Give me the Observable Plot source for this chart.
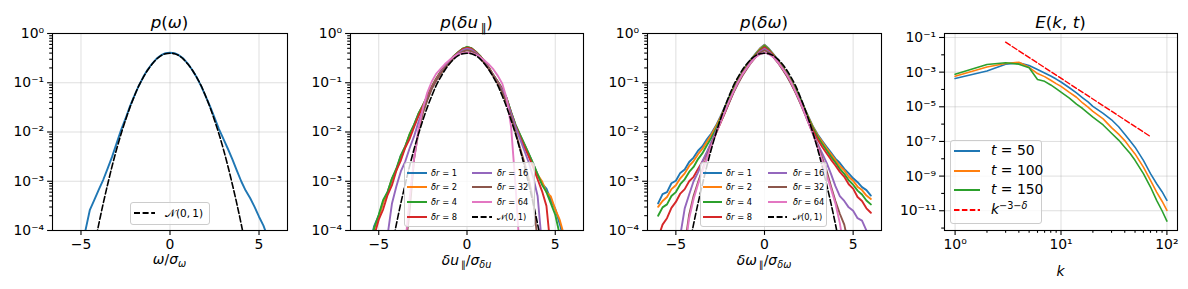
<!DOCTYPE html>
<html><head><meta charset="utf-8">
<script src="https://cdn.jsdelivr.net/npm/d3@7"></script>
<script src="https://cdn.jsdelivr.net/npm/@observablehq/plot@0.6"></script>
<style>
html,body{margin:0;padding:0;background:#fff;}
#wrap{position:relative;width:1188px;height:289px;overflow:hidden;font-family:"DejaVu Sans",sans-serif;color:#000;}
#wrap svg{position:absolute;top:0;overflow:visible;}
.lbl{position:absolute;white-space:nowrap;line-height:1;transform:translateX(-50%);}
.title{font-size:16.7px;}
.xlab{font-size:13.9px;}
i{font-style:italic;}
.sb{font-size:70%;position:relative;top:0.3em;line-height:0;}
.sp{font-size:70%;position:relative;top:-0.5em;line-height:0;}
.lgbox{position:absolute;border:1px solid #cccccc;border-radius:3px;background:rgba(255,255,255,0.8);box-sizing:border-box;}
.lgtxt{position:absolute;white-space:nowrap;line-height:1;transform:translateY(-50%);}
.lgline{position:absolute;overflow:visible;}
</style>
</head><body><div id="wrap"></div>
<script>
const _ = null;
// shared x grid for the PDF panels (normalised variable)
const xGrid = [-6,-5.75,-5.5,-5.25,-5,-4.75,-4.5,-4.25,-4,-3.75,-3.5,-3.25,-3,-2.75,-2.5,-2.25,-2,-1.75,-1.5,-1.25,-1,-0.75,-0.5,-0.25,0,0.25,0.5,0.75,1,1.25,1.5,1.75,2,2.25,2.5,2.75,3,3.25,3.5,3.75,4,4.25,4.5,4.75,5,5.25,5.5,5.75,6];

// log10 of the PDFs
const omegaPdf = [_,_,_,_,-4.6,-4.0,-3.58,-3.38,-3.17,-2.97,-2.74,-2.5,-2.23,-1.96,-1.73,-1.48,-1.26,-1.06,-0.88,-0.73,-0.61,-0.51,-0.44,-0.4,-0.39,-0.4,-0.44,-0.51,-0.61,-0.74,-0.89,-1.07,-1.27,-1.48,-1.71,-1.94,-2.14,-2.34,-2.55,-2.78,-3.0,-3.19,-3.34,-3.52,-3.72,-3.9,-4.15,_,_];
const gaussPdf = [_,_,_,_,_,_,-4.8,-4.32,-3.87,-3.45,-3.06,-2.69,-2.35,-2.04,-1.76,-1.5,-1.27,-1.06,-0.89,-0.74,-0.62,-0.52,-0.45,-0.41,-0.4,-0.41,-0.45,-0.52,-0.62,-0.74,-0.89,-1.06,-1.27,-1.5,-1.76,-2.04,-2.35,-2.69,-3.06,-3.45,-3.87,-4.32,-4.8,_,_,_,_,_,_];

const seriesLabels = ["1","2","4","8","16","32","64"];
const seriesColors = ["#1f77b4","#ff7f0e","#2ca02c","#d62728","#9467bd","#8c564b","#e377c2"];

const du1 = [_,_,-4.25,-3.9,-3.7,-3.42,-3.22,-2.96,-2.76,-2.48,-2.3,-2.06,-1.86,-1.63,-1.46,-1.28,-1.08,-0.92,-0.78,-0.66,-0.56,-0.46,-0.38,-0.31,-0.28,-0.3,-0.37,-0.46,-0.57,-0.7,-0.85,-0.98,-1.12,-1.32,-1.6,-1.86,-2.06,-2.25,-2.45,-2.65,-2.86,-3.05,-3.15,-3.38,-3.56,-3.86,-4.2,_,_];
const du2 = [_,_,-4.35,-3.96,-3.72,-3.43,-3.24,-2.95,-2.78,-2.5,-2.31,-2.05,-1.87,-1.64,-1.46,-1.28,-1.09,-0.92,-0.78,-0.66,-0.56,-0.46,-0.38,-0.31,-0.28,-0.3,-0.37,-0.46,-0.57,-0.7,-0.85,-0.98,-1.13,-1.33,-1.61,-1.87,-2.07,-2.26,-2.46,-2.66,-2.87,-3.0,-3.22,-3.31,-3.57,-3.78,-4.1,_,_];
const du4 = [_,_,-4.3,-3.94,-3.68,-3.38,-3.22,-2.94,-2.74,-2.48,-2.29,-2.04,-1.85,-1.63,-1.46,-1.28,-1.09,-0.93,-0.78,-0.66,-0.56,-0.46,-0.38,-0.31,-0.27,-0.3,-0.37,-0.46,-0.57,-0.7,-0.85,-0.98,-1.13,-1.32,-1.6,-1.85,-2.05,-2.24,-2.44,-2.64,-2.86,-3.07,-3.22,-3.45,-3.68,-4.08,-4.5,_,_];
const du8 = [_,_,-4.5,-4.1,-3.78,-3.57,-3.28,-3.08,-2.78,-2.58,-2.32,-2.14,-1.9,-1.68,-1.48,-1.29,-1.1,-0.94,-0.79,-0.67,-0.57,-0.47,-0.39,-0.32,-0.29,-0.31,-0.38,-0.47,-0.58,-0.71,-0.86,-0.99,-1.14,-1.34,-1.62,-1.88,-2.1,-2.3,-2.5,-2.72,-2.96,-3.2,-3.5,-4.4,_,_,_,_,_];
const du16 = [_,_,_,_,_,_,-4.1,-3.45,-3.1,-2.8,-2.6,-2.33,-2.09,-1.8,-1.55,-1.33,-1.12,-0.95,-0.8,-0.68,-0.58,-0.48,-0.4,-0.34,-0.31,-0.33,-0.39,-0.48,-0.59,-0.72,-0.86,-1.0,-1.15,-1.36,-1.63,-1.9,-2.14,-2.38,-2.62,-2.92,-3.3,-4.3,_,_,_,_,_,_,_];
const du32 = [_,_,_,_,_,_,_,_,_,_,-4.4,-3.6,-2.55,-2.0,-1.62,-1.36,-1.13,-0.96,-0.82,-0.7,-0.6,-0.5,-0.42,-0.37,-0.34,-0.36,-0.41,-0.5,-0.61,-0.73,-0.87,-1.02,-1.2,-1.42,-1.7,-2.0,-2.32,-2.62,-2.95,-3.4,-4.2,_,_,_,_,_,_,_,_];
const du64 = [_,_,_,_,_,_,_,_,_,_,-4.3,-3.35,-2.55,-1.95,-1.52,-1.2,-0.98,-0.82,-0.72,-0.62,-0.54,-0.47,-0.42,-0.4,-0.39,-0.4,-0.43,-0.48,-0.55,-0.63,-0.73,-0.86,-1.02,-1.32,-1.9,-3.1,-4.5,_,_,_,_,_,_,_,_,_,_,_,_];

const dw1 = [-3.45,-3.26,-3.22,-3.04,-2.99,-2.83,-2.76,-2.61,-2.52,-2.38,-2.29,-2.15,-2.03,-1.88,-1.7,-1.5,-1.3,-1.11,-0.94,-0.79,-0.65,-0.52,-0.41,-0.3,-0.23,-0.31,-0.42,-0.53,-0.66,-0.8,-0.95,-1.12,-1.31,-1.51,-1.71,-1.9,-2.05,-2.18,-2.3,-2.42,-2.54,-2.63,-2.75,-2.84,-2.94,-3.02,-3.12,-3.18,-3.29];
const dw2 = [-3.52,-3.4,-3.32,-3.16,-3.08,-2.94,-2.84,-2.69,-2.59,-2.45,-2.34,-2.2,-2.06,-1.9,-1.72,-1.52,-1.32,-1.12,-0.95,-0.8,-0.66,-0.53,-0.42,-0.31,-0.24,-0.32,-0.43,-0.54,-0.67,-0.81,-0.96,-1.13,-1.32,-1.52,-1.72,-1.91,-2.07,-2.2,-2.33,-2.45,-2.57,-2.69,-2.78,-2.91,-2.99,-3.11,-3.18,-3.29,-3.36];
const dw4 = [-3.7,-3.53,-3.47,-3.3,-3.22,-3.06,-2.96,-2.81,-2.71,-2.55,-2.43,-2.27,-2.12,-1.95,-1.76,-1.55,-1.34,-1.14,-0.96,-0.81,-0.67,-0.54,-0.43,-0.33,-0.25,-0.33,-0.44,-0.55,-0.68,-0.82,-0.97,-1.14,-1.33,-1.53,-1.74,-1.93,-2.1,-2.24,-2.37,-2.5,-2.62,-2.75,-2.85,-2.98,-3.07,-3.19,-3.27,-3.39,-3.47];
const dw8 = [-4.15,-3.88,-3.75,-3.54,-3.42,-3.25,-3.16,-3.0,-2.91,-2.75,-2.6,-2.42,-2.24,-2.04,-1.83,-1.62,-1.4,-1.18,-0.99,-0.83,-0.69,-0.56,-0.45,-0.35,-0.28,-0.35,-0.45,-0.57,-0.7,-0.84,-1.0,-1.18,-1.38,-1.58,-1.78,-1.98,-2.15,-2.3,-2.43,-2.56,-2.68,-2.81,-2.91,-3.06,-3.15,-3.32,-3.4,-3.55,-3.64];
const dw16 = [_,_,_,_,_,-4.1,-3.55,-3.27,-3.0,-2.82,-2.59,-2.41,-2.2,-2.0,-1.8,-1.6,-1.4,-1.19,-1.0,-0.84,-0.7,-0.57,-0.46,-0.37,-0.31,-0.37,-0.47,-0.58,-0.71,-0.85,-1.01,-1.19,-1.39,-1.6,-1.82,-2.04,-2.24,-2.43,-2.62,-2.85,-3.1,-3.3,-3.4,-3.53,-3.6,-3.75,-3.8,-4.0,-4.2];
const dw32 = [_,_,_,_,_,_,-4.3,-3.68,-3.3,-3.02,-2.76,-2.5,-2.26,-2.03,-1.82,-1.62,-1.41,-1.2,-1.02,-0.86,-0.72,-0.59,-0.48,-0.39,-0.34,-0.39,-0.48,-0.59,-0.72,-0.86,-1.02,-1.2,-1.4,-1.61,-1.83,-2.05,-2.28,-2.52,-2.78,-3.1,-3.4,-3.66,-3.88,-4.3,_,_,_,_,_];
const dw64 = [_,_,_,_,_,_,-4.4,-3.75,-3.36,-3.06,-2.8,-2.53,-2.28,-2.04,-1.82,-1.6,-1.38,-1.18,-0.99,-0.83,-0.7,-0.58,-0.48,-0.42,-0.39,-0.42,-0.48,-0.58,-0.7,-0.83,-0.99,-1.18,-1.38,-1.6,-1.83,-2.06,-2.3,-2.57,-2.86,-3.15,-3.45,-3.85,-4.4,_,_,_,_,_,_];

// energy spectra (log10 E) at wavenumbers k
const kValues = [1,2,3,4,5,6,7,8,9,10,12,14,16,18,20,25,30,35,40,45,50,60,70,80,90,100];
const E50  = [-3.37,-2.93,-2.54,-2.46,-2.62,-2.85,-3.05,-3.22,-3.4,-3.57,-3.9,-4.2,-4.48,-4.72,-4.98,-5.38,-5.75,-6.15,-6.58,-6.97,-7.33,-8.09,-8.86,-9.44,-9.9,-10.4];
const E100 = [-3.24,-2.70,-2.50,-2.43,-2.72,-3.08,-3.26,-3.47,-3.66,-3.82,-4.17,-4.45,-4.78,-5.02,-5.27,-5.7,-6.2,-6.58,-6.95,-7.37,-7.72,-8.48,-9.25,-9.92,-10.45,-10.98];
const E150 = [-3.12,-2.56,-2.46,-2.54,-2.75,-3.42,-3.53,-3.74,-3.95,-4.15,-4.5,-4.85,-5.1,-5.36,-5.6,-6.05,-6.53,-6.92,-7.33,-7.7,-8.09,-8.86,-9.63,-10.4,-11.0,-11.6];
const timeLabels = ["50","100","150"];
const refK = [3, 70];
const refE = [-1.27, -6.72];

// tick values
const pdfXTicks = [-5, 0, 5];
const pdfYTicks = [1e-4, 1e-3, 1e-2, 1e-1, 1];
const specXTicks = [1, 10, 100];
const specYTicks = [1e-11, 1e-9, 1e-7, 1e-5, 1e-3, 1e-1];

// ---------- helpers ----------
const SUP = {"0":"⁰","1":"¹","2":"²","3":"³","4":"⁴","5":"⁵","6":"⁶","7":"⁷","8":"⁸","9":"⁹","-":"⁻"};
const fmtPow = d => "10" + String(Math.round(Math.log10(d))).replace(/[-0-9]/g, c => SUP[c]);
const fmtLin = d => d < 0 ? "\u2212" + (-d) : String(d);
function rows(xs, logs) {
  const out = [];
  xs.forEach((x, i) => { if (logs[i] != null) out.push({x, y: Math.pow(10, logs[i])}); });
  return out;
}
function minorLog(lo, hi) {
  const out = [];
  for (let e = lo; e < hi; e++) for (let m = 2; m <= 9; m++) out.push(m * Math.pow(10, e));
  return out;
}
const gridStyle = {stroke: "#b0b0b0", strokeOpacity: 0.5, strokeWidth: 0.8};
const axisStyle = {fontSize: 13.9, strokeWidth: 1.1, label: null};
const baseStyle = {fontFamily: "DejaVu Sans", fontSize: "13.9px", color: "black", background: "transparent", overflow: "visible"};

const wrap = document.getElementById("wrap");
function put(svg, left) { svg.style.left = left + "px"; wrap.appendChild(svg); }

function pdfPanel(series, gauss, ml, mr) {
  return Plot.plot({
    width: 297, height: 289, marginLeft: ml, marginRight: mr, marginTop: 33, marginBottom: 59,
    style: baseStyle,
    x: {domain: [-6.6, 6.6]},
    y: {type: "log", domain: [1e-4, 1]},
    marks: [
      Plot.gridX(pdfXTicks, gridStyle),
      Plot.gridY(pdfYTicks, gridStyle),
      ...series.map((s, i) => Plot.line(rows(xGrid, s), {x: "x", y: "y", stroke: seriesColors[i], strokeWidth: 1.9, clip: true})),
      Plot.line(rows(xGrid, gauss), {x: "x", y: "y", stroke: "black", strokeWidth: 1.6, strokeDasharray: "6,2.6", curve: "natural", clip: true}),
      Plot.frame({stroke: "black", strokeWidth: 1.1}),
      Plot.axisX(pdfXTicks, {...axisStyle, tickFormat: fmtLin, tickSize: 4.9, tickPadding: 3.5}),
      Plot.axisY(pdfYTicks, {...axisStyle, tickFormat: fmtPow, tickSize: 4.9, tickPadding: 3.5}),
      Plot.axisY(minorLog(-4, 0), {...axisStyle, tickFormat: () => "", tickSize: 2.8})
    ]
  });
}

// Panel 1
put(pdfPanel([omegaPdf], gaussPdf, 52, 10), 0);
// Panel 2
put(pdfPanel([du1, du2, du4, du8, du16, du32, du64], gaussPdf, 53, 11), 297);
// Panel 3
put(pdfPanel([dw1, dw2, dw4, dw8, dw16, dw32, dw64], gaussPdf, 53, 10), 594);
// Panel 4
const specSeries = [E50, E100, E150];
put(Plot.plot({
  width: 297, height: 289, marginLeft: 53, marginRight: 11, marginTop: 33, marginBottom: 59,
  style: baseStyle,
  x: {type: "log", domain: [Math.pow(10, -0.1), Math.pow(10, 2.1)]},
  y: {type: "log", domain: [Math.pow(10, -12.14), Math.pow(10, -0.77)]},
  marks: [
    Plot.gridX(specXTicks, gridStyle),
    Plot.gridY(specYTicks, gridStyle),
    ...specSeries.map((s, i) => Plot.line(rows(kValues, s), {x: "x", y: "y", stroke: seriesColors[i], strokeWidth: 1.6})),
    Plot.line(rows(refK, refE), {x: "x", y: "y", stroke: "#ff0000", strokeWidth: 1.4, strokeDasharray: "5.5,2.4"}),
    Plot.frame({stroke: "black", strokeWidth: 1.1}),
    Plot.axisX(specXTicks, {...axisStyle, tickFormat: fmtPow, tickSize: 4.9, tickPadding: 3.5}),
    Plot.axisX(minorLog(0, 2), {...axisStyle, tickFormat: () => "", tickSize: 2.8}),
    Plot.axisY(specYTicks, {...axisStyle, tickFormat: fmtPow, tickSize: 4.9, tickPadding: 3.5}),
    Plot.axisY([1e-12,1e-10,1e-8,1e-6,1e-4,1e-2], {...axisStyle, tickFormat: () => "", tickSize: 2.8})
  ]
}), 891);

// ---------- text: titles and x labels ----------
function label(cls, html, cx, top) {
  const d = document.createElement("div");
  d.className = "lbl " + cls;
  d.innerHTML = html;
  d.style.left = cx + "px";
  d.style.top = top + "px";
  wrap.appendChild(d);
}
label("title", "<i>p</i>(<i>ω</i>)", 169.5, 14);
label("title", "<i>p</i>(<i>δu</i><span class='sb'>&thinsp;∥</span>)", 466.5, 14);
label("title", "<i>p</i>(<i>δω</i>)", 764, 14);
label("title", "<i>E</i>(<i>k</i>, <i>t</i>)", 1060.5, 14);
label("xlab", "<i>ω</i>/<i>σ</i><span class='sb'><i>ω</i></span>", 169.5, 253);
label("xlab", "<i>δu</i><span class='sb'>&thinsp;∥</span>/<i>σ</i><span class='sb'><i>δu</i></span>", 466.5, 254);
label("xlab", "<i>δω</i><span class='sb'>&thinsp;∥</span>/<i>σ</i><span class='sb'><i>δω</i></span>", 764, 254);
label("xlab", "<i>k</i>", 1060.5, 265);

// ---------- legends ----------
function legend(box, fontSize, items) {
  const b = document.createElement("div");
  b.className = "lgbox";
  b.style.left = box[0] + "px"; b.style.top = box[1] + "px";
  b.style.width = (box[2] - box[0]) + "px"; b.style.height = (box[3] - box[1]) + "px";
  wrap.appendChild(b);
  for (const it of items) {
    const s = document.createElementNS("http://www.w3.org/2000/svg", "svg");
    s.setAttribute("class", "lgline");
    s.setAttribute("width", it.x1 - it.x0); s.setAttribute("height", 4);
    s.style.left = it.x0 + "px"; s.style.top = (it.y - 2) + "px";
    const l = document.createElementNS("http://www.w3.org/2000/svg", "line");
    l.setAttribute("x1", 0); l.setAttribute("x2", it.x1 - it.x0);
    l.setAttribute("y1", 2); l.setAttribute("y2", 2);
    l.setAttribute("stroke", it.color); l.setAttribute("stroke-width", it.w || 2);
    if (it.dash) l.setAttribute("stroke-dasharray", it.dash);
    s.appendChild(l);
    wrap.appendChild(s);
    const t = document.createElement("div");
    t.className = "lgtxt";
    t.style.fontSize = fontSize + "px";
    t.style.left = it.tx + "px"; t.style.top = it.y + "px";
    t.innerHTML = it.html;
    wrap.appendChild(t);
  }
}
const normalHtml = "𝒩(0,&thinsp;1)";
legend([130, 202, 210, 225], 10.5, [
  {x0: 134, x1: 155, tx: 165, y: 213, color: "black", dash: "6,2.6", html: normalHtml}
]);
function deltaLegend(box, c1, c2, ys) {
  const items = [];
  const labels = seriesLabels.map(v => "<i>δr</i> = " + v);
  for (let i = 0; i < 8; i++) {
    const col = i < 4 ? c1 : c2;
    const y = ys[i % 4];
    if (i < 7) items.push({x0: col[0], x1: col[1], tx: col[2], y, color: seriesColors[i], html: labels[i]});
    else items.push({x0: col[0], x1: col[1], tx: col[2], y, color: "black", dash: "6,2.6", html: normalHtml});
  }
  legend(box, 8.3, items);
}
deltaLegend([404, 162, 535, 227], [407, 427, 431], [472, 492, 497], [172.7, 186.6, 201.5, 216.5]);
deltaLegend([700, 162, 827, 227], [703, 722, 726], [768, 787, 793], [172.7, 186.6, 201.5, 216.5]);
legend([950, 140, 1042, 224], 13.9, [
  {x0: 954, x1: 980, tx: 991, y: 151, color: seriesColors[0], html: "<i>t</i> = " + timeLabels[0]},
  {x0: 954, x1: 980, tx: 991, y: 171, color: seriesColors[1], html: "<i>t</i> = " + timeLabels[1]},
  {x0: 954, x1: 980, tx: 991, y: 190, color: seriesColors[2], html: "<i>t</i> = " + timeLabels[2]},
  {x0: 954, x1: 980, tx: 991, y: 210, color: "#ff0000", dash: "5.5,2.4", html: "<i>k</i><span class='sp'>−3−<i>δ</i></span>"}
]);
</script>
</body></html>
